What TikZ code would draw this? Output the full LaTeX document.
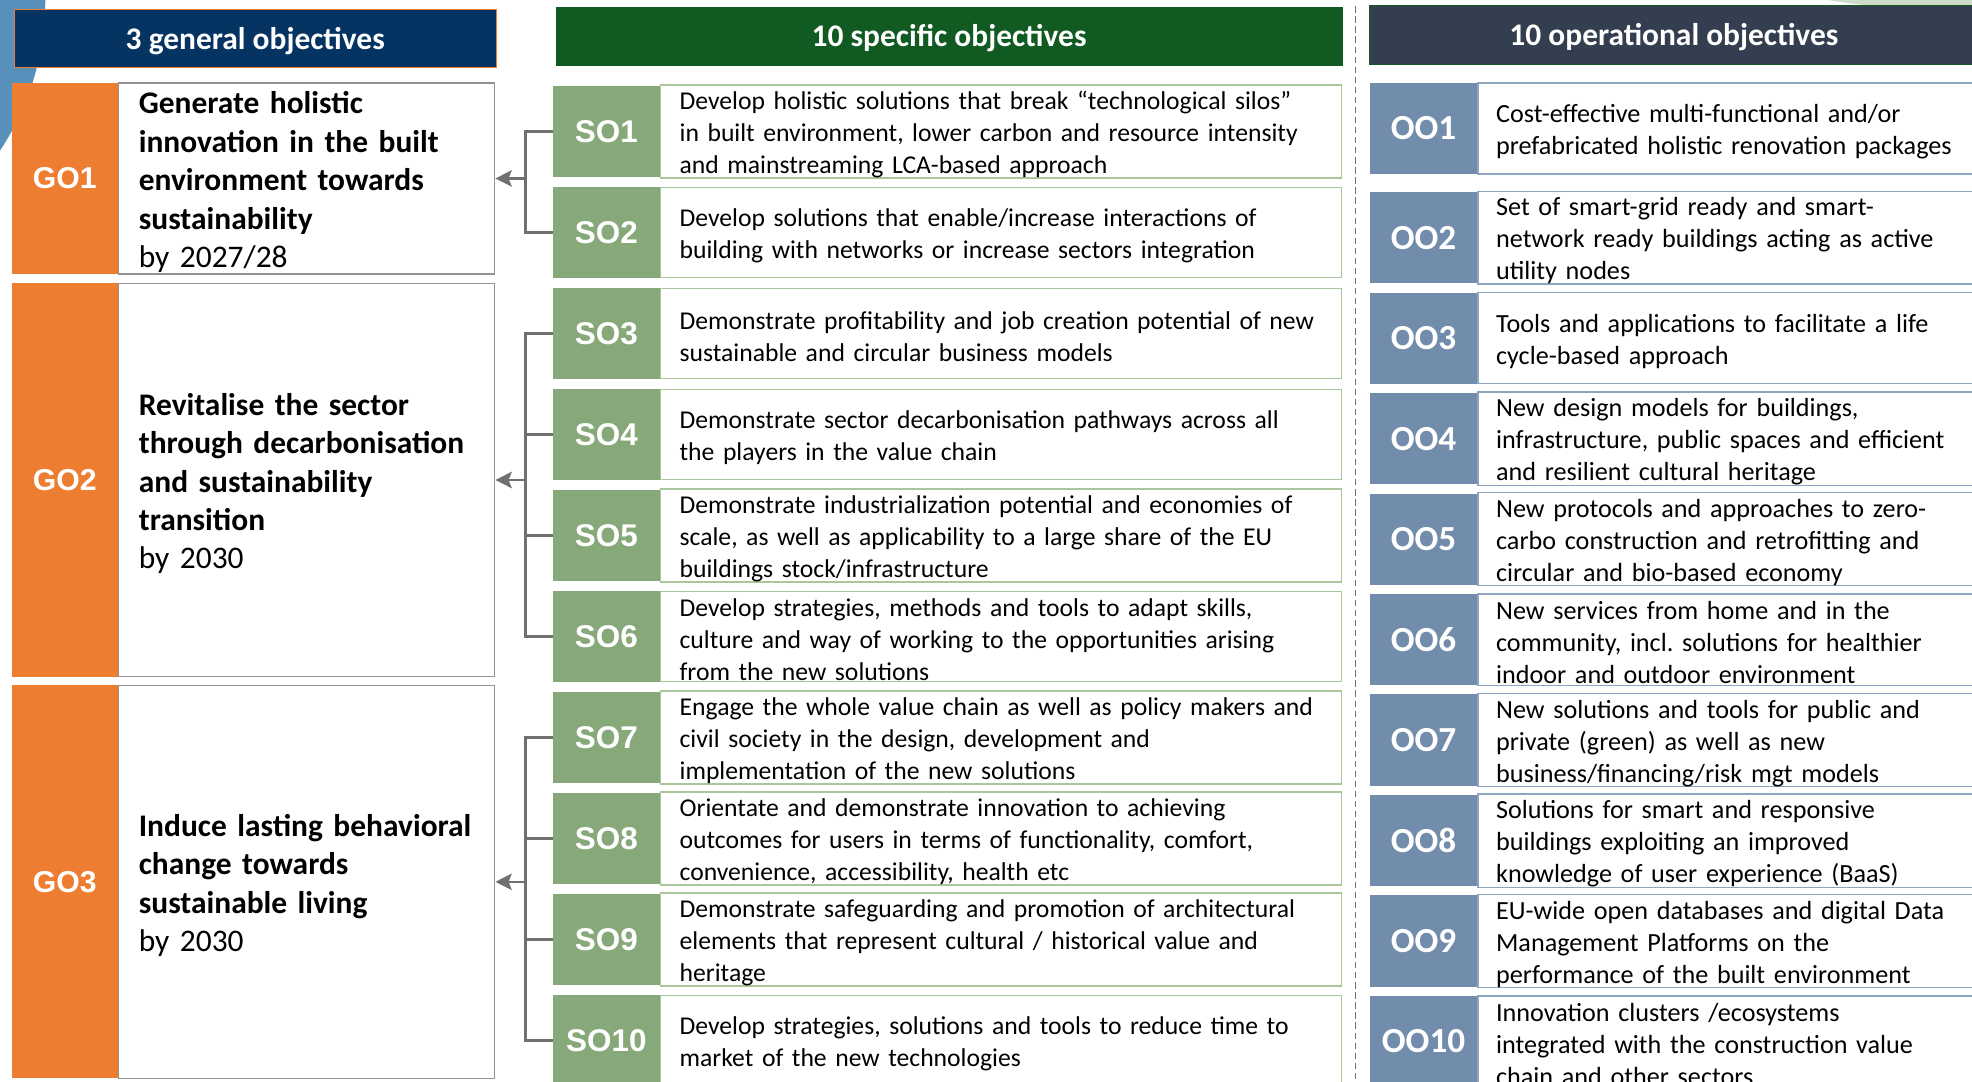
\documentclass[tikz,border=0pt]{standalone}
\usepackage{fontspec}
\setmainfont{Carlito}
\newfontfamily\arialfont{Liberation Sans}
\usetikzlibrary{positioning, arrows.meta}

\definecolor{gonavy}{HTML}{063462}
\definecolor{goorange}{HTML}{ED7D31}
\definecolor{gogray}{HTML}{929292}
\definecolor{sodark}{HTML}{115A22}
\definecolor{sogreen}{HTML}{87A878}
\definecolor{soline}{HTML}{A9C79B}
\definecolor{oodark}{HTML}{333F50}
\definecolor{ooblue}{HTML}{728CAB}
\definecolor{ooline}{HTML}{8DA5BF}
\definecolor{linkgray}{HTML}{707070}
\definecolor{circblue}{HTML}{5690BB}
\definecolor{swoosh}{HTML}{CFDCC8}

\tikzstyle{headbox} = [rectangle, inner sep=0pt, text=white, text height=23pt, text depth=6pt, font=\fontsize{25}{30}\selectfont\bfseries]
\tikzstyle{golab} = [rectangle, fill=goorange, minimum width=84.5pt, inner sep=0pt, text=white, font=\arialfont\fontsize{24}{28}\selectfont\bfseries]
\tikzstyle{gotext} = [rectangle, draw=gogray, line width=1pt, fill=white, text width=267pt, inner xsep=16pt, inner ysep=0pt, text height=23.5pt, align=left, font=\fontsize{25}{30.5}\selectfont]
\tikzstyle{solab} = [rectangle, fill=sogreen, minimum width=85pt, minimum height=72pt, inner sep=0pt, text=white, font=\arialfont\fontsize{25}{28}\selectfont\bfseries]
\tikzstyle{sotext} = [rectangle, draw=soline, line width=1pt, fill=white, text width=511pt, inner xsep=15pt, inner ysep=0pt, minimum height=72pt, text height=19.5pt, align=left, font=\fontsize{20.4}{25.5}\selectfont]
\tikzstyle{oolab} = [rectangle, fill=ooblue, minimum width=85pt, minimum height=72.5pt, inner sep=0pt, text=white, font=\fontsize{28}{32}\selectfont\bfseries]
\tikzstyle{ootext} = [rectangle, draw=ooline, line width=1pt, fill=white, text width=375pt, inner xsep=14.5pt, inner ysep=0pt, minimum height=72.5pt, text height=19.5pt, align=left, font=\fontsize{20.8}{25.5}\selectfont]
\tikzstyle{conn} = [linkgray, line width=2pt]
\tikzstyle{arrow} = [conn, ->, >={Stealth[length=13pt, width=13pt, inset=2.5pt]}]
\tikzstyle{sepline} = [linkgray, line width=1pt, dash pattern=on 5pt off 3pt]

\begin{document}
\begin{tikzpicture}[x=1pt, y=-1pt]
	\useasboundingbox (0,0) rectangle (1568,860);
	% background
	\fill[circblue] (-181,0) circle (217pt);
	\fill[swoosh] (1560,-28) ellipse (170pt and 36pt);

	% column headers
	\node (gohead) [headbox, fill=gonavy, draw=goorange, line width=1pt, minimum width=383pt, minimum height=46pt] at (203,30.5) {3 general objectives};
	\node (sohead) [headbox, fill=sodark, minimum width=626pt, minimum height=47pt] at (754.7,28.8) {10 specific objectives};
	\node (oohead) [headbox, fill=oodark, draw=sodark, line width=1pt, minimum width=484pt, minimum height=47pt] at (1331,27.8) {10 operational objectives};
	\draw [sepline] (1078,5) -- (1078,860);

	% general objectives
	\node (go1) [golab, minimum height=152pt, anchor=north west] at (9,65.7) {GO1};
	\node (go1t) [gotext, minimum height=152pt, right=0pt of go1] {\bfseries Generate holistic\\innovation in the built\\environment towards\\sustainability\\\mdseries by 2027/28};
	\node (go2) [golab, minimum height=312.7pt, below=7pt of go1] {GO2};
	\node (go2t) [gotext, minimum height=312.7pt, right=0pt of go2] {\bfseries Revitalise the sector\\through decarbonisation\\and sustainability\\transition\\\mdseries by 2030};
	\node (go3) [golab, minimum height=312.7pt, below=6.4pt of go2] {GO3};
	\node (go3t) [gotext, minimum height=312.7pt, right=0pt of go3] {\bfseries Induce lasting behavioral\\change towards\\sustainable living\\\mdseries by 2030};

	% specific objectives
	\node (so1) [solab, anchor=north west] at (439.5,68.4) {SO1};
	\node (so1t) [sotext, right=0pt of so1] {Develop holistic solutions that break “technological silos”\\in built environment, lower carbon and resource intensity\\and mainstreaming LCA-based approach};
	\node (so2) [solab, below=7.9pt of so1] {SO2};
	\node (so2t) [sotext, right=0pt of so2] {Develop solutions that enable/increase interactions of\\building with networks or increase sectors integration};
	\node (so3) [solab, below=7.9pt of so2] {SO3};
	\node (so3t) [sotext, right=0pt of so3] {Demonstrate profitability and job creation potential of new\\sustainable and circular business models};
	\node (so4) [solab, below=7.9pt of so3] {SO4};
	\node (so4t) [sotext, right=0pt of so4] {Demonstrate sector decarbonisation pathways across all\\the players in the value chain};
	\node (so5) [solab, below=7.9pt of so4] {SO5};
	\node (so5t) [sotext, right=0pt of so5] {Demonstrate industrialization potential and economies of\\scale, as well as applicability to a large share of the EU\\buildings stock/infrastructure};
	\node (so6) [solab, below=7.9pt of so5] {SO6};
	\node (so6t) [sotext, right=0pt of so6] {Develop strategies, methods and tools to adapt skills,\\culture and way of working to the opportunities arising\\from the new solutions};
	\node (so7) [solab, below=7.9pt of so6] {SO7};
	\node (so7t) [sotext, right=0pt of so7] {Engage the whole value chain as well as policy makers and\\civil society in the design, development and\\implementation of the new solutions};
	\node (so8) [solab, below=7.9pt of so7] {SO8};
	\node (so8t) [sotext, right=0pt of so8] {Orientate and demonstrate innovation to achieving\\outcomes for users in terms of functionality, comfort,\\convenience, accessibility, health etc};
	\node (so9) [solab, below=7.9pt of so8] {SO9};
	\node (so9t) [sotext, right=0pt of so9] {Demonstrate safeguarding and promotion of architectural\\elements that represent cultural / historical value and\\heritage};
	\node (so10) [solab, below=7.9pt of so9] {SO10};
	\node (so10t) [sotext, right=0pt of so10] {Develop strategies, solutions and tools to reduce time to\\market of the new technologies};

	% operational objectives
	\node (oo1) [oolab, anchor=north west] at (1089.2,65.7) {OO1};
	\node (oo1t) [ootext, right=0pt of oo1] {Cost-effective multi-functional and/or\\prefabricated holistic renovation packages};
	\node (oo2) [oolab, below=13.9pt of oo1] {OO2};
	\node (oo2t) [ootext, right=0pt of oo2] {Set of smart-grid ready and smart-\\network ready buildings acting as active\\utility nodes};
	\node (oo3) [oolab, below=7pt of oo2] {OO3};
	\node (oo3t) [ootext, right=0pt of oo3] {Tools and applications to facilitate a life\\cycle-based approach};
	\node (oo4) [oolab, below=7pt of oo3] {OO4};
	\node (oo4t) [ootext, right=0pt of oo4] {New design models for buildings,\\infrastructure, public spaces and efficient\\and resilient cultural heritage};
	\node (oo5) [oolab, below=7pt of oo4] {OO5};
	\node (oo5t) [ootext, right=0pt of oo5] {New protocols and approaches to zero-\\carbo construction and retrofitting and\\circular and bio-based economy};
	\node (oo6) [oolab, below=7pt of oo5] {OO6};
	\node (oo6t) [ootext, right=0pt of oo6] {New services from home and in the\\community, incl.\ solutions for healthier\\indoor and outdoor environment};
	\node (oo7) [oolab, below=7pt of oo6] {OO7};
	\node (oo7t) [ootext, right=0pt of oo7] {New solutions and tools for public and\\private (green) as well as new\\business/financing/risk mgt models};
	\node (oo8) [oolab, below=7pt of oo7] {OO8};
	\node (oo8t) [ootext, right=0pt of oo8] {Solutions for smart and responsive\\buildings exploiting an improved\\knowledge of user experience (BaaS)};
	\node (oo9) [oolab, below=7pt of oo8] {OO9};
	\node (oo9t) [ootext, right=0pt of oo9] {EU-wide open databases and digital Data\\Management Platforms on the\\performance of the built environment};
	\node (oo10) [oolab, below=7pt of oo9] {OO10};
	\node (oo10t) [ootext, right=0pt of oo10] {Innovation clusters /ecosystems\\integrated with the construction value\\chain and other sectors};

	% brackets from specific to general objectives
	\coordinate (j1) at ([xshift=24pt]go1t.east);
	\coordinate (j2) at ([xshift=24pt]go2t.east);
	\coordinate (j3) at ([xshift=24pt]go3t.east);
	\draw [conn] (so1.west) -| (j1) |- (so2.west);
	\draw [arrow] (j1) -- (go1t.east);
	\draw [conn] (so3.west) -| (j2) |- (so6.west);
	\foreach \n in {so4,so5}
		\draw [conn] (\n.west) -- (\n.west -| j2);
	\draw [arrow] (j2) -- (go2t.east);
	\draw [conn] (so7.west) -| (j3) |- (so10.west);
	\foreach \n in {so8,so9}
		\draw [conn] (\n.west) -- (\n.west -| j3);
	\draw [arrow] (j3) -- (go3t.east);
\end{tikzpicture}
\end{document}
